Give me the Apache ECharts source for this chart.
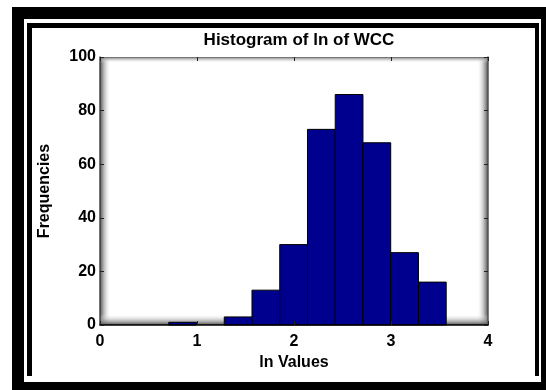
<!DOCTYPE html>
<html>
<head>
<meta charset="utf-8">
<script src="https://cdn.jsdelivr.net/npm/echarts@6/dist/echarts.min.js"></script>
<style>
html,body{margin:0;padding:0;background:#fff;}
#main{width:546px;height:390px;}
</style>
</head>
<body>
<div id="main"></div>
<script>
// ---- data ----
const binEdges = [0.709, 0.995, 1.281, 1.567, 1.853, 2.139, 2.425, 2.711, 2.997, 3.283, 3.569];
const counts = [1, 0, 3, 13, 30, 73, 86, 68, 27, 16];
const xTicks = [0, 1, 2, 3, 4];
const yTicks = [0, 20, 40, 60, 80, 100];
const titleText = 'Histogram of ln of WCC';
const xName = 'ln Values';
const yName = 'Frequencies';

const bins = counts.map((c, i) => [binEdges[i], binEdges[i + 1], c]);

const G = {left: 100, top: 57, right: 488, bottom: 325};
const FONT = '"Liberation Sans", Arial, sans-serif';
const labelStyle = {color: '#000', fontFamily: FONT, fontWeight: 'bold', fontSize: 16};

const chart = echarts.init(document.getElementById('main'), null, {renderer: 'canvas'});

function strip(x, y, w, h, x2, y2, c0, c1) {
  return {
    type: 'rect', z: 1, silent: true,
    shape: {x: x, y: y, width: w, height: h},
    style: {fill: new echarts.graphic.LinearGradient(0, 0, x2, y2, [
      {offset: 0, color: c0}, {offset: 1, color: c1}])}
  };
}

function tick() {
  return {show: true, inside: true, length: 4, lineStyle: {color: '#222', width: 1}};
}

chart.setOption({
  animation: false,
  backgroundColor: '#fff',
  title: {
    text: titleText,
    left: (G.left + G.right) / 2,
    textAlign: 'center',
    top: 27,
    textStyle: {color: '#000', fontFamily: FONT, fontWeight: 'bold', fontSize: 17}
  },
  grid: {left: G.left, top: G.top, width: G.right - G.left, height: G.bottom - G.top, containLabel: false},
  graphic: [
    {type: 'rect', z: 0, silent: true, shape: {x: 12, y: 7, width: 534, height: 383}, style: {fill: '#000'}},
    {type: 'rect', z: 0, silent: true, shape: {x: 24, y: 19, width: 517, height: 363}, style: {fill: '#fff'}},
    {type: 'rect', z: 0, silent: true, shape: {x: 27, y: 23, width: 512, height: 353}, style: {fill: '#000'}},
    {type: 'rect', z: 0, silent: true, shape: {x: 32, y: 28, width: 503, height: 348}, style: {fill: '#fff'}},
    strip(G.left, G.top, 11, G.bottom - G.top, 1, 0, 'rgba(80,80,80,1)', 'rgba(255,255,255,0)'),
    strip(G.right - 11, G.top, 11, G.bottom - G.top, 1, 0, 'rgba(255,255,255,0)', 'rgba(80,80,80,1)'),
    strip(G.left, G.top, G.right - G.left, 6, 0, 1, 'rgba(110,110,110,1)', 'rgba(255,255,255,0)'),
    strip(G.left, G.bottom - 11, G.right - G.left, 11, 0, 1, 'rgba(255,255,255,0)', 'rgba(80,80,80,1)')
  ],
  xAxis: [
    {
      type: 'value', position: 'bottom', min: xTicks[0], max: xTicks[xTicks.length - 1], interval: 1, z: 5,
      name: xName, nameLocation: 'middle', nameGap: 29,
      nameTextStyle: labelStyle,
      splitLine: {show: false}, axisTick: tick(),
      axisLine: {show: true, onZero: false, lineStyle: {color: '#000', width: 1.5}},
      axisLabel: Object.assign({margin: 9}, labelStyle)
    },
    {
      type: 'value', position: 'top', min: xTicks[0], max: xTicks[xTicks.length - 1], interval: 1, z: 5,
      splitLine: {show: false}, axisTick: tick(),
      axisLine: {show: true, onZero: false, lineStyle: {color: '#777', width: 1}},
      axisLabel: {show: false}
    }
  ],
  yAxis: [
    {
      type: 'value', position: 'left', min: yTicks[0], max: yTicks[yTicks.length - 1], interval: 20, z: 5,
      name: yName, nameLocation: 'middle', nameGap: 47, nameRotate: 90,
      nameTextStyle: labelStyle,
      splitLine: {show: false}, axisTick: tick(),
      axisLine: {show: true, onZero: false, lineStyle: {color: '#444', width: 1.5}},
      axisLabel: Object.assign({margin: 4}, labelStyle)
    },
    {
      type: 'value', position: 'right', min: yTicks[0], max: yTicks[yTicks.length - 1], interval: 20, z: 5,
      splitLine: {show: false}, axisTick: tick(),
      axisLine: {show: true, onZero: false, lineStyle: {color: '#555', width: 1.5}},
      axisLabel: {show: false}
    }
  ],
  series: [{
    type: 'custom',
    z: 3,
    xAxisIndex: 0,
    yAxisIndex: 0,
    data: bins,
    encode: {x: [0, 1], y: 2},
    renderItem: function (params, api) {
      const c = api.value(2);
      if (!c) return null;
      const p0 = api.coord([api.value(0), 0]);
      const p1 = api.coord([api.value(1), c]);
      return {
        type: 'rect',
        shape: {x: p0[0], y: p1[1], width: p1[0] - p0[0], height: p0[1] - p1[1]},
        style: {fill: '#00008F', stroke: '#000', lineWidth: 1}
      };
    }
  }]
});
</script>
</body>
</html>
